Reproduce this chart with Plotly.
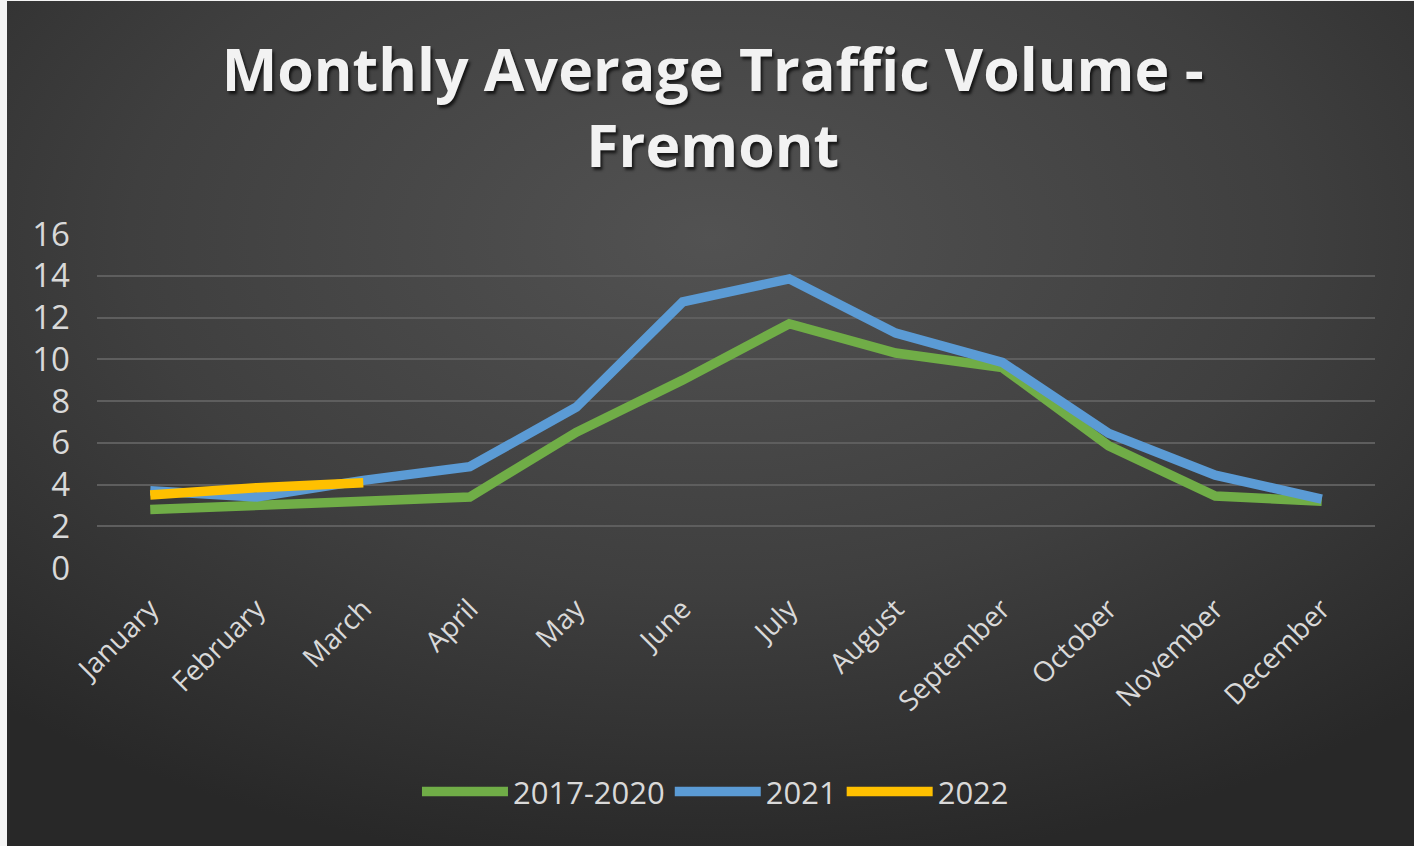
import base64
import plotly.graph_objects as go

months = ["January", "February", "March", "April", "May", "June", "July",
          "August", "September", "October", "November", "December"]
avg_2017_2020 = [2.8, 2.95, 3.2, 3.4, 6.5, 9.0, 11.7, 10.3, 9.6, 5.85, 3.45, 3.2]
vol_2021 = [3.7, 3.4, 4.2, 4.85, 7.7, 12.75, 13.85, 11.25, 9.85, 6.45, 4.45, 3.3]
vol_2022 = [3.5, 3.85, 4.08]
y_ticks = [0, 2, 4, 6, 8, 10, 12, 14, 16]

W, H = 1414, 846
L, R, T, B = 97, 1375, 234, 568

svg = ('<svg xmlns="http://www.w3.org/2000/svg" width="1407" height="845" preserveAspectRatio="none">'
       '<defs><radialGradient id="g" cx="50%" cy="28%" r="75%">'
       '<stop offset="0" stop-color="#525252"/><stop offset="0.55" stop-color="#3f3f3f"/>'
       '<stop offset="1" stop-color="#282828"/></radialGradient></defs>'
       '<rect width="1407" height="845" fill="url(#g)"/></svg>')
src = "data:image/svg+xml;base64," + base64.b64encode(svg.encode()).decode()

fig = go.Figure()
fig.add_trace(go.Scatter(x=months, y=avg_2017_2020, name="2017-2020", mode="lines",
                         line=dict(color="#70ad47", width=9.5)))
fig.add_trace(go.Scatter(x=months, y=vol_2021, name="2021", mode="lines",
                         line=dict(color="#5b9bd5", width=9.5)))
fig.add_trace(go.Scatter(x=months[:len(vol_2022)], y=vol_2022, name="2022", mode="lines",
                         line=dict(color="#ffc000", width=9.5)))

pw, ph = R - L, B - T
fig.add_layout_image(dict(source=src, xref="paper", yref="paper",
                          x=(7 - L) / pw, y=(B - 1) / ph,
                          sizex=(W - 7) / pw, sizey=(H - 1) / ph,
                          sizing="stretch", xanchor="left", yanchor="top", layer="below"))

fig.update_layout(
    width=W, height=H,
    margin=dict(l=L, r=W - R, t=T, b=H - B),
    paper_bgcolor="#f4f4f4",
    plot_bgcolor="rgba(0,0,0,0)",
    font=dict(family="Open Sans", color="#d9d9d9"),
    title=dict(text="Monthly Average Traffic Volume -<br>Fremont",
               x=0.504, xanchor="center", xref="container",
               y=0.893, yanchor="top", yref="container",
               font=dict(family="Open Sans", size=59, color="#f2f2f2", weight="bold",
                         shadow="2px 3px 3px rgba(0,0,0,0.7)")),
    showlegend=True,
    legend=dict(orientation="h", xref="container", x=0.506, xanchor="center",
                yref="container", y=0.064, yanchor="middle",
                font=dict(size=31, color="#d9d9d9"), bgcolor="rgba(0,0,0,0)",
                itemwidth=86),
    xaxis=dict(type="category", range=[-0.5, 11.5], showgrid=False, zeroline=False,
               showline=False, ticks="", tickangle=-45,
               tickfont=dict(size=28, color="#d9d9d9"),
               ticklabelstandoff=18, fixedrange=True),
    yaxis=dict(range=[0, 16], tickvals=y_ticks, showgrid=True, gridcolor="#5e5e5e",
               gridwidth=2, zeroline=False, showline=False, ticks="",
               tickfont=dict(size=33, color="#d9d9d9"), ticklabelstandoff=26),
)

fig.write_html("out.html", config={"displayModeBar": False},
               post_script="document.body.style.margin='0';")
